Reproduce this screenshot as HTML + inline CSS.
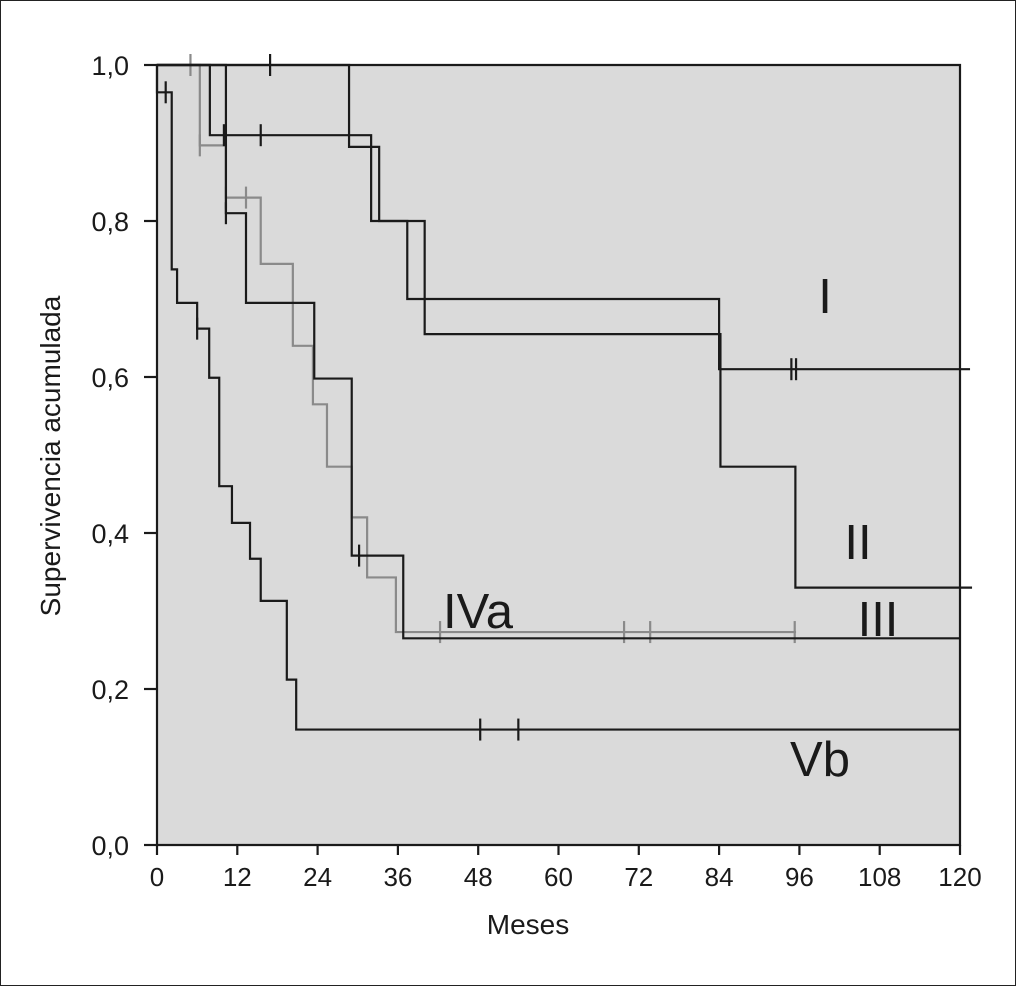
<!DOCTYPE html>
<html><head><meta charset="utf-8"><style>
html,body{margin:0;padding:0;background:#fff}
svg{display:block}
text{font-family:"Liberation Sans",Arial,sans-serif;fill:#1a1a1a}
</style></head><body>
<svg id="chart" width="1016" height="986" viewBox="0 0 1016 986" xmlns="http://www.w3.org/2000/svg">
<rect x="0.5" y="0.5" width="1015" height="985" fill="#fff" stroke="#222" stroke-width="1"/>
<rect x="157" y="65" width="803" height="780" fill="#dadada"/>
<g id="grid"></g>
<g id="series"></g>
<g id="axes"></g>
<text x="528" y="934" font-size="28" text-anchor="middle">Meses</text>
<text x="0" y="0" font-size="28" text-anchor="middle" transform="translate(60,456) rotate(-90)">Supervivencia acumulada</text>
<text x="825" y="313" font-size="49" text-anchor="middle">I</text>
<text x="858" y="559" font-size="49" text-anchor="middle">II</text>
<text x="878" y="636" font-size="49" text-anchor="middle">III</text>
<text x="478" y="628" font-size="49" text-anchor="middle">IVa</text>
<text x="820" y="776" font-size="49" text-anchor="middle">Vb</text>
</svg>
<script>
const xTicks=[0,12,24,36,48,60,72,84,96,108,120];
const yTicks=[0,0.2,0.4,0.6,0.8,1.0];
const yTickLabels=["0,0","0,2","0,4","0,6","0,8","1,0"];
// group A (I)
const aTimes=[28.7,33.2,37.4,84];
const aSurv=[0.895,0.8,0.7,0.61];
const aEnd=121.5;
const aCensor=[16.9,94.8,95.5];
// group B (II)
const bTimes=[7.9,32,40,84.2,95.4];
const bSurv=[0.91,0.8,0.655,0.485,0.33];
const bEnd=121.8;
const bCensor=[10,15.5];
// group III
const cTimes=[10.3,13.3,23.5,29.1,36.8];
const cSurv=[0.81,0.695,0.598,0.371,0.265];
const cEnd=120;
const cCensor=[10.3,30.2];
// IVa (gray)
const dTimes=[6.4,10.3,15.5,20.3,23.3,25.4,29.1,31.4,35.7];
const dSurv=[0.897,0.83,0.745,0.64,0.565,0.485,0.42,0.343,0.273];
const dEnd=95.5;
const dCensor=[5,6.4,10.3,13.3,42.3,69.8,73.7,95.3];
// Vb
const eTimes=[0,2.2,3,6,7.8,9.3,11.2,13.9,15.5,19.4,20.8];
const eSurv=[0.965,0.738,0.695,0.662,0.599,0.46,0.413,0.367,0.313,0.212,0.148];
const eEnd=120;
const eCensor=[1.3,6,48.3,54];

const X=t=>157+t*803/120;
const Y=s=>845-s*780;
const NS="http://www.w3.org/2000/svg";
function mk(tag,attrs,parent){const el=document.createElementNS(NS,tag);for(const k in attrs)el.setAttribute(k,attrs[k]);parent.appendChild(el);return el;}
const axes=document.getElementById('axes');
const series=document.getElementById('series');

function survAt(times,surv,t){let s=1;for(let i=0;i<times.length;i++){if(times[i]<=t)s=surv[i];}return s;}
function drawCurve(name,times,surv,end,censor,color){
  let d="M"+X(0)+","+Y(1);
  for(let i=0;i<times.length;i++){d+=" H"+X(times[i])+" V"+Y(surv[i]);}
  d+=" H"+X(end);
  const p=mk('path',{d:d,fill:'none',stroke:color,'stroke-width':2.2},series);
  
  
  censor.forEach(t=>{const s=survAt(times,surv,t);
    const c=mk('line',{x1:X(t),x2:X(t),y1:Y(s)-11,y2:Y(s)+11,stroke:color,'stroke-width':2.2},series);
    
    
  });
}
drawCurve('group-iva',dTimes,dSurv,dEnd,dCensor,'#8a8a8a');
drawCurve('group-i',aTimes,aSurv,aEnd,aCensor,'#1a1a1a');
drawCurve('group-ii',bTimes,bSurv,bEnd,bCensor,'#1a1a1a');
drawCurve('group-iii',cTimes,cSurv,cEnd,cCensor,'#1a1a1a');
drawCurve('group-vb',eTimes,eSurv,eEnd,eCensor,'#1a1a1a');

const fr=mk('path',{d:"M157,845 V65 H960 V845 H157",fill:'none',stroke:'#1a1a1a','stroke-width':2.2},axes);


xTicks.forEach(t=>{
  const l=mk('line',{x1:X(t),x2:X(t),y1:845,y2:855,stroke:'#1a1a1a','stroke-width':2.2},axes);
  
  
  const tx=mk('text',{x:X(t),y:886,'font-size':26,'text-anchor':'middle'},axes);
  tx.textContent=t;
  
  
});
yTicks.forEach((v,i)=>{
  const l=mk('line',{x1:144,x2:157,y1:Y(v),y2:Y(v),stroke:'#1a1a1a','stroke-width':2.2},axes);
  
  
  const tx=mk('text',{x:129,y:Y(v)+10,'font-size':27,'text-anchor':'end'},axes);
  tx.textContent=yTickLabels[i];
  
  
});
</script>
</body></html>
